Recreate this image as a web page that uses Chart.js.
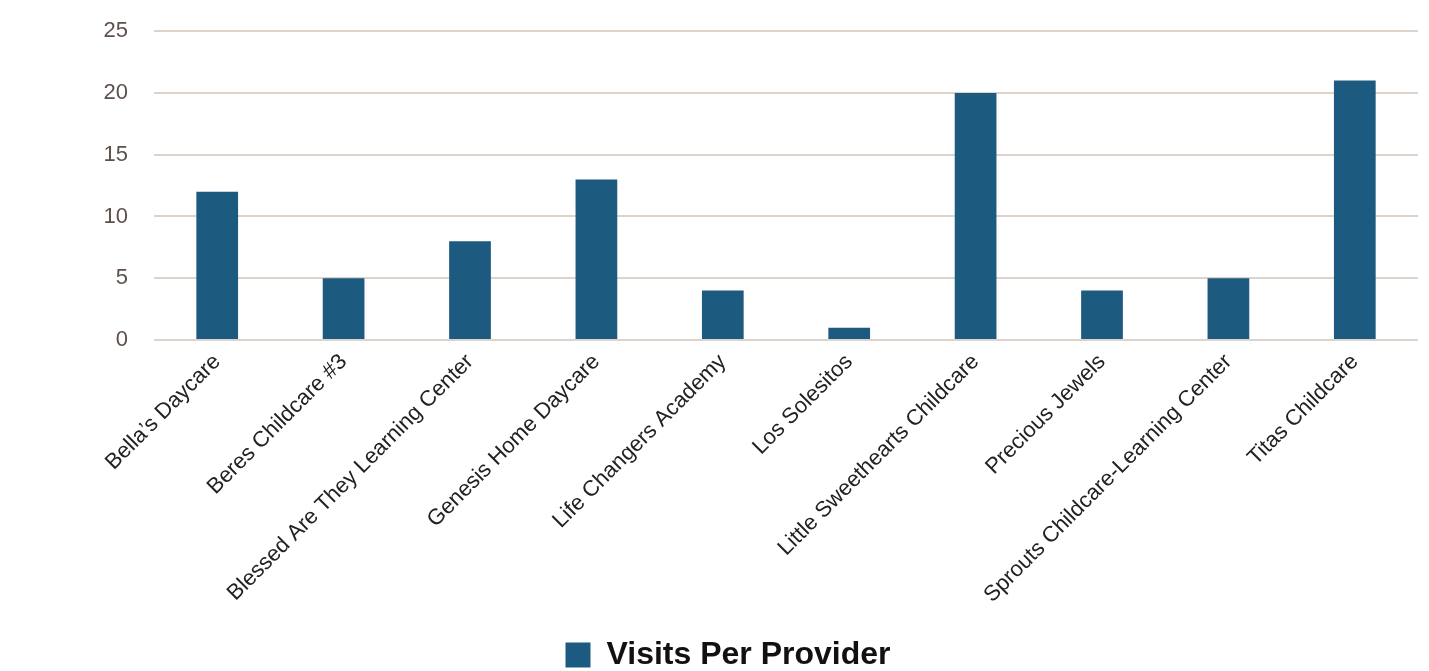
<!DOCTYPE html>
<html>
<head>
<meta charset="utf-8">
<script src="https://cdn.jsdelivr.net/npm/chart.js@4.4.1/dist/chart.umd.min.js"></script>
<style>
  html, body { margin: 0; padding: 0; background: #fff; overflow: hidden; }
  #wrap { width: 1429px; height: 671px; overflow: hidden; }
  #visitsChart { display: block; margin-top: -8px; }
</style>
</head>
<body>
<div id="wrap"><canvas id="visitsChart" width="1429" height="689"></canvas></div>
<script>
// Провайдеры и количество визитов
const providers = [
  'Bella’s Daycare',
  'Beres Childcare #3',
  'Blessed Are They Learning Center',
  'Genesis Home Daycare',
  'Life Changers Academy',
  'Los Solesitos',
  'Little Sweethearts Childcare',
  'Precious Jewels',
  'Sprouts Childcare-Learning Center',
  'Titas Childcare',
];
const visits = [12, 5, 8, 13, 4, 1, 20, 4, 5, 21];
const yTicks = [0, 5, 10, 15, 20, 25];

const ctx = document.getElementById('visitsChart').getContext('2d');

new Chart(ctx, {
  type: 'bar',
  data: {
    labels: providers,
    datasets: [
      {
        label: 'Visits Per Provider',
        data: visits,
        backgroundColor: '#1d5a7f',
        borderWidth: 0,
        barPercentage: 0.33,
        categoryPercentage: 1,
      },
    ],
  },
  options: {
    responsive: false,
    animation: false,
    layout: {
      padding: { left: 38, right: 11, top: 31, bottom: 0 },
    },
    plugins: {
      legend: {
        position: 'bottom',
        labels: {
          boxWidth: 25,
          boxHeight: 25,
          padding: 0,
          color: '#111',
          font: { family: 'Liberation Sans, Arial', size: 32, weight: 'bold' },
        },
      },
      tooltip: { enabled: false },
    },
    scales: {
      x: {
        grid: { display: false },
        border: { display: false },
        afterFit: (scale) => {
          scale.height = 299; // место под повёрнутые подписи
        },
        ticks: {
          minRotation: 45,
          maxRotation: 45,
          color: '#222',
          padding: 1,
          font: { family: 'Liberation Sans, Arial', size: 22 },
        },
      },
      y: {
        min: 0,
        max: 25,
        afterBuildTicks: (axis) => {
          axis.ticks = yTicks.map((v) => ({ value: v }));
        },
        afterFit: (scale) => {
          scale.width = 116;
        },
        grid: { color: '#ddd3cd', lineWidth: 2, drawTicks: false },
        border: { display: false },
        ticks: {
          color: '#5e504b',
          padding: 26,
          font: { family: 'Liberation Sans, Arial', size: 22 },
        },
      },
    },
  },
});
</script>
</body>
</html>
